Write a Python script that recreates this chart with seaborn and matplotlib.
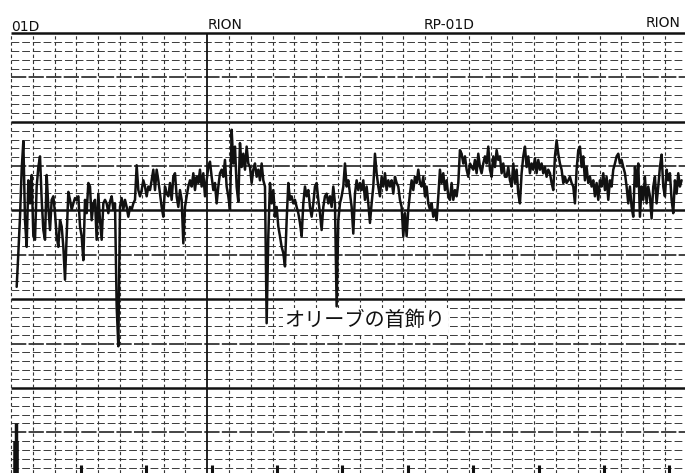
import numpy as np
import pandas as pd
import matplotlib
matplotlib.use("Agg")
import matplotlib.pyplot as plt
import seaborn as sns

# Sound level trace (dB), read every 0.0765 s along the recorder paper
T_START = 0.26
T_STEP = 0.07645

level_a = [11.4, 15.2, 19.3, 24.6, 27.8, 18.9, 15.9, 23.4, 20.8, 24.0,
           17.1, 16.7, 22.7, 24.9, 26.1, 21.2, 17.8, 16.7, 24.0, 20.4,
           17.8, 21.2, 21.6, 19.7, 17.1, 15.9, 18.9, 18.2, 15.9, 12.2,
           17.1, 22.1, 21.2, 20.1, 20.8, 21.4, 21.2, 21.6, 18.2, 17.1,
           14.4, 21.2, 19.7, 23.1, 22.7, 18.9, 20.8, 21.2, 16.7, 21.9,
           18.9, 16.7, 20.8, 21.2, 20.8, 19.7, 21.0, 21.6, 20.1, 20.8,
           9.2, 4.7, 20.4, 21.4, 20.1, 21.2, 20.4, 19.3, 20.4, 20.1,
           20.8, 21.2, 25.1, 22.3, 21.6, 22.3, 23.4, 22.7, 21.6, 22.7,
           22.3, 23.4, 24.6, 22.3, 24.6, 23.4, 21.9, 20.4, 19.3, 22.7,
           21.9, 21.6, 23.1, 21.2, 23.8, 24.2, 21.6, 20.4]

level_b = [22.3, 21.2, 16.3, 20.4, 21.6, 22.7, 23.4, 22.7, 24.2, 22.3,
           23.8, 23.1, 24.6, 22.7, 24.2, 21.6, 23.4, 24.9, 25.5, 23.8,
           22.3, 23.1, 20.8, 22.7, 24.2, 24.6, 23.8, 25.7, 22.7, 21.6,
           20.1, 29.1, 25.3, 27.2, 22.7, 21.0, 27.6, 24.9, 26.4, 24.6,
           27.2, 25.3, 24.9, 23.1, 24.6, 25.3, 23.8, 24.6, 23.4, 25.3,
           23.4, 22.7, 7.3, 17.1, 23.1, 20.8, 22.3, 19.3, 20.4, 18.2,
           17.1, 15.9, 15.2, 13.7, 18.9, 23.1, 21.2, 21.6, 20.8, 21.2,
           20.4, 19.7, 18.6, 17.1, 20.8, 22.7, 21.6, 22.3, 20.4, 19.3,
           20.8, 22.7, 23.1, 21.2, 19.7, 17.8, 20.4, 21.6, 21.9, 20.8,
           21.6, 20.4, 22.7, 20.8, 9.2, 18.9, 20.8, 21.6, 22.7]

level_c = [25.3, 22.7, 23.4, 21.9, 20.4, 17.4, 21.9, 23.4, 22.3, 23.1,
           22.3, 23.4, 21.2, 22.7, 20.8, 18.6, 20.8, 22.7, 26.4, 24.2,
           22.7, 21.6, 23.8, 22.7, 24.2, 22.3, 23.4, 22.7, 23.4, 21.9,
           23.8, 23.1, 22.7, 21.2, 20.4, 17.1, 19.7, 17.1, 20.1, 21.9,
           23.4, 22.3, 23.8, 23.1, 24.6, 23.1, 22.7, 23.8, 21.6, 22.7,
           20.8, 20.1, 20.8, 19.3, 20.1, 18.9, 21.6, 24.6, 23.1, 24.2,
           22.3, 23.4, 21.6, 21.2, 23.1, 21.2, 22.3, 21.6, 23.1, 26.8,
           26.4, 25.3, 26.1, 24.6, 23.8, 25.3, 24.9, 24.6, 25.7, 24.2,
           26.4, 24.9, 24.2, 25.3, 26.1, 25.3, 27.2, 24.6, 23.8, 26.1,
           24.9, 26.8, 25.7, 26.1, 24.2, 25.3, 23.8]

level_d = [23.8, 24.9, 23.4, 22.7, 25.3, 23.1, 24.6, 21.9, 20.8, 24.2,
           26.1, 27.2, 24.9, 26.1, 24.2, 25.3, 24.6, 25.9, 24.2, 25.7,
           24.6, 25.3, 24.2, 24.9, 23.8, 24.6, 24.2, 23.1, 22.3, 26.1,
           27.9, 26.4, 25.3, 24.6, 23.1, 23.8, 23.1, 23.4, 23.8, 23.1,
           22.7, 20.8, 24.6, 26.8, 27.2, 24.9, 26.1, 23.4, 24.9, 23.1,
           23.8, 22.7, 23.4, 21.6, 23.1, 21.2, 23.4, 22.7, 24.2, 22.3,
           23.8, 21.2, 23.4, 22.7, 24.6, 25.3, 26.1, 26.4, 25.3, 25.7,
           24.9, 24.2, 22.7, 20.8, 22.7, 20.4, 19.3, 24.9, 22.7, 25.3,
           19.3, 22.7, 21.2, 23.8, 20.8, 22.7, 21.6, 19.1, 22.7, 23.8,
           20.8, 22.7, 24.9, 26.3, 22.7, 21.6, 24.6, 23.4, 24.2, 21.2,
           19.7, 23.4, 21.9, 24.2, 22.7, 23.4]

# Pre-printed paper legends along the top edge
paper_labels = ["01D", "RION", "RP-01D", "RION"]
paper_label_t = [0.0, 9.0, 18.95, 29.1]
paper_label_db = [40.25, 40.4, 40.5, 40.7]

# Event marker ticks at the bottom edge (s)
marker_t = [0.2, 3.2, 6.2, 9.2, 12.2, 15.2, 18.2, 21.2, 24.2, 27.2, 30.2]

song_title = "オリーブの首飾り"
song_t = 12.55
song_db = 7.55

levels = level_a + level_b + level_c + level_d
df = pd.DataFrame({
    "time": T_START + T_STEP * np.arange(len(levels)),
    "level": levels,
})

sns.set_style("white")
plt.rcParams["font.family"] = ["DejaVu Sans"]

fig = plt.figure(figsize=(6.85, 4.73), dpi=100)
ax = fig.add_axes([0, 0, 1, 1])
ax.set_xlim(-0.505, 30.92)
ax.set_ylim(-9.58, 43.72)
ax.axis("off")

ink = "#111111"

# Chart-paper grid: 1 dB minor rules, 5 dB medium, 10 dB heavy
for db in range(-9, 41):
    if db % 10 == 0:
        ax.hlines(db, 0, 31, color=ink, lw=1.8, zorder=1)
    elif db % 5 == 0:
        ax.hlines(db, 0, 31, color=ink, lw=1.1, linestyles=(0, (10, 1.5)), zorder=1)
    else:
        ax.hlines(db, 0, 31, color="#3a3a3a", lw=0.7, linestyles=(0, (8, 3)), zorder=1)

for sec in range(0, 31):
    if sec == 9:
        ax.vlines(sec, -9.6, 40, color=ink, lw=1.3, zorder=1)
    else:
        ax.vlines(sec, -9.6, 40, color="#333333", lw=0.8, linestyles=(0, (3, 2.5)), zorder=1)

ax.vlines(marker_t, -9.6, -8.7, color=ink, lw=2.2, zorder=2)
ax.vlines(0.22, -9.6, -3.9, color=ink, lw=2.5, zorder=2)
ax.vlines(0.22, -9.6, -6.0, color=ink, lw=4.0, zorder=2)

for lab, t, db in zip(paper_labels, paper_label_t, paper_label_db):
    ax.text(t, db, lab, ha="left", va="baseline", fontsize=10, color=ink)

sns.lineplot(data=df, x="time", y="level", ax=ax, color=ink, lw=1.8,
             estimator=None, sort=False, legend=False, zorder=3)
ax.axis("off")

ax.text(song_t, song_db, song_title, ha="left", va="center", fontsize=14.5,
        color=ink, family=["Noto Sans CJK JP", "DejaVu Sans"], zorder=4,
        bbox=dict(facecolor="white", edgecolor="none", pad=1.5))

fig.savefig("out.png", dpi=100, facecolor="white")
